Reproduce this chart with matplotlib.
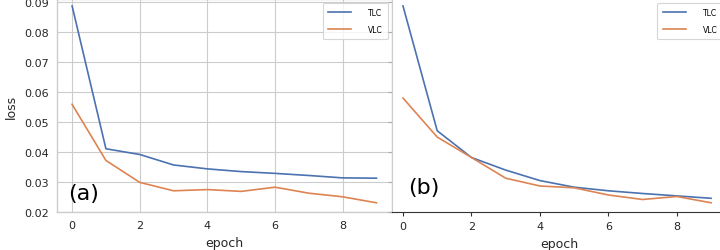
import numpy as np
import matplotlib
matplotlib.use("Agg")
import matplotlib.pyplot as plt

# ── data ────────────────────────────────────────────────────────────────────
epochs = list(range(10))

tlc_a = [0.0887, 0.0411, 0.0392, 0.0357, 0.0344, 0.0335, 0.0329, 0.0322, 0.0314, 0.0313]
vlc_a = [0.0559, 0.0372, 0.0299, 0.0271, 0.0275, 0.0269, 0.0283, 0.0263, 0.0251, 0.0231]

tlc_b = [0.0887, 0.0471, 0.0382, 0.0340, 0.0305, 0.0283, 0.0271, 0.0262, 0.0254, 0.0246]
vlc_b = [0.0580, 0.0450, 0.0382, 0.0313, 0.0287, 0.0281, 0.0257, 0.0242, 0.0252, 0.0231]

BLUE   = "#4C72B0"
ORANGE = "#DD8452"
LIGHT  = "#cccccc"
DARK   = "#262626"

plt.rcParams["font.family"] = "DejaVu Sans"

fig = plt.figure(figsize=(7.2, 2.51), dpi=100, facecolor="white")
ax1 = fig.add_axes([0.079, 0.151, 0.465, 0.849])
ax2 = fig.add_axes([0.544, 0.151, 0.465, 0.849], sharey=ax1)

def draw(ax, tlc, vlc):
    ax.plot(epochs, tlc, color=BLUE, lw=1.2, label="TLC")
    ax.plot(epochs, vlc, color=ORANGE, lw=1.2, label="VLC")
    ax.set_xticks([0, 2, 4, 6, 8])
    ax.set_xlabel("epoch", fontsize=9, color=DARK, labelpad=4)
    leg = ax.legend(loc="upper right", fontsize=5.5, handlelength=3.0,
                    handletextpad=2.2, borderpad=0.7, labelspacing=1.0,
                    frameon=True, borderaxespad=0.5)
    leg.get_frame().set_edgecolor(LIGHT)
    leg.get_frame().set_linewidth(0.8)

# ── (a) grid style ──────────────────────────────────────────────────────────
draw(ax1, tlc_a, vlc_a)
ax1.set_ylim(0.02, 0.091)
ax1.set_yticks([0.02, 0.03, 0.04, 0.05, 0.06, 0.07, 0.08, 0.09])
ax1.grid(True, color=LIGHT, lw=0.8)
for s in ax1.spines.values():
    s.set_color(LIGHT)
    s.set_linewidth(1.0)
ax1.tick_params(length=0, labelsize=8, labelcolor=DARK, pad=6)
ax1.set_ylabel("loss", fontsize=9, color=DARK, labelpad=4)
ax1.text(0.033, 0.09, "(a)", transform=ax1.transAxes, fontsize=16,
         va="center", ha="left", color="black")

# ── (b) ticks style ─────────────────────────────────────────────────────────
draw(ax2, tlc_b, vlc_b)
ax2.set_xlim(-0.33, 9.45)
ax2.spines["top"].set_visible(False)
ax2.spines["right"].set_visible(False)
ax2.spines["left"].set_color(LIGHT)
ax2.spines["bottom"].set_color("#333333")
ax2.tick_params(axis="y", labelleft=False, length=3, color="#aaaaaa")
ax2.tick_params(axis="x", length=3, labelsize=8, labelcolor=DARK, color="#333333")
ax2.text(0.048, 0.117, "(b)", transform=ax2.transAxes, fontsize=16,
         va="center", ha="left", color="black")

plt.savefig("out.png", dpi=100, facecolor="white")
